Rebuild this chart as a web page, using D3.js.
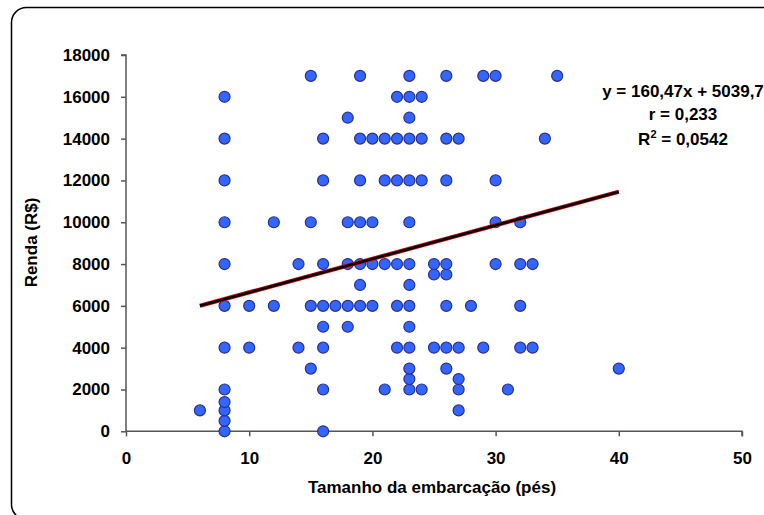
<!DOCTYPE html>
<html>
<head>
<meta charset="utf-8">
<script src="https://cdn.jsdelivr.net/npm/d3@7"></script>
<style>
  body { margin: 0; background: #fff; }
  svg { display: block; }
  .axis path, .axis line { stroke: #555; stroke-width: 1.5; }
  .axis text { font: bold 17px "Liberation Sans", Arial, sans-serif; fill: #000; }
</style>
</head>
<body>
<div id="chart"></div>
<script>
// boat size (feet) and income (R$), one entry per visible marker
var boatSize = [
  6,
  8, 8, 8, 8, 8, 8, 8, 8, 8, 8, 8, 8,
  10, 10,
  12, 12,
  14, 14,
  15, 15, 15, 15,
  16, 16, 16, 16, 16, 16, 16, 16,
  17,
  18, 18, 18, 18, 18,
  19, 19, 19, 19, 19, 19, 19,
  20, 20, 20, 20,
  21, 21, 21, 21,
  22, 22, 22, 22, 22, 22,
  23, 23, 23, 23, 23, 23, 23, 23, 23, 23, 23, 23, 23, 23,
  24, 24, 24, 24,
  25, 25, 25,
  26, 26, 26, 26, 26, 26, 26, 26,
  27, 27, 27, 27, 27,
  28,
  29, 29,
  30, 30, 30, 30,
  31,
  32, 32, 32, 32,
  33, 33,
  34,
  35,
  40
];
var income = [
  1000,
  0, 500, 1000, 1400, 2000, 4000, 6000, 8000, 10000, 12000, 14000, 16000,
  4000, 6000,
  6000, 10000,
  4000, 8000,
  3000, 6000, 10000, 17000,
  0, 2000, 4000, 5000, 6000, 8000, 12000, 14000,
  6000,
  5000, 6000, 8000, 10000, 15000,
  6000, 7000, 8000, 10000, 12000, 14000, 17000,
  6000, 8000, 10000, 14000,
  2000, 8000, 12000, 14000,
  4000, 6000, 8000, 12000, 14000, 16000,
  2000, 2500, 3000, 4000, 5000, 6000, 7000, 8000, 10000, 12000, 14000, 15000, 16000, 17000,
  2000, 12000, 14000, 16000,
  4000, 7500, 8000,
  3000, 4000, 6000, 7500, 8000, 12000, 14000, 17000,
  1000, 2000, 2500, 4000, 14000,
  6000,
  4000, 17000,
  8000, 10000, 12000, 17000,
  2000,
  4000, 6000, 8000, 10000,
  4000, 8000,
  14000,
  17000,
  3000
];

var xTicks = [0, 10, 20, 30, 40, 50];
var yTicks = [0, 2000, 4000, 6000, 8000, 10000, 12000, 14000, 16000, 18000];

// trend line as printed on the chart
var slope = 160.47;
var intercept = 5039.7;
var trendRange = [6, 40];
var statLines = ["y = 160,47x + 5039,7", "r = 0,233"];
var r2Label = "0,0542";

var xTitle = "Tamanho da embarcação (pés)";
var yTitle = "Renda (R$)";

var width = 764, height = 515;
var font = '"Liberation Sans", Arial, sans-serif';

var svg = d3.select("#chart").append("svg")
    .attr("width", width)
    .attr("height", height);

// outer frame with rounded corner
svg.append("rect")
    .attr("x", 11.5)
    .attr("y", 7.5)
    .attr("width", 800)
    .attr("height", 512)
    .attr("rx", 15)
    .attr("fill", "none")
    .attr("stroke", "#000")
    .attr("stroke-width", 1.5);

var x = d3.scaleLinear().domain([0, 50]).range([126, 742]);
var y = d3.scaleLinear().domain([0, 18000]).range([431.3, 55]);

var xAxis = d3.axisBottom(x)
    .tickValues(xTicks)
    .tickSize(5)
    .tickPadding(16)
    .tickFormat(d3.format("d"));

var yAxis = d3.axisLeft(y)
    .tickValues(yTicks)
    .tickSize(5)
    .tickPadding(11)
    .tickFormat(d3.format("d"));

svg.append("g")
    .attr("class", "axis")
    .attr("transform", "translate(0," + y(0) + ")")
    .call(xAxis)
    .call(function (g) { g.select(".domain").attr("d", "M" + x(0) + ",0H" + x(50) + "V5"); });

svg.append("g")
    .attr("class", "axis")
    .attr("transform", "translate(" + x(0) + ",0)")
    .call(yAxis)
    .call(function (g) { g.select(".domain").attr("d", "M-5," + y(18000) + "H0V" + y(0)); });

// axis titles
svg.append("text")
    .attr("x", (x(0) + x(50)) / 2 - 2)
    .attr("y", 493)
    .attr("text-anchor", "middle")
    .style("font", "bold 17px " + font)
    .text(xTitle);

svg.append("text")
    .attr("transform", "translate(37," + 242.5 + ") rotate(-90)")
    .attr("text-anchor", "middle")
    .style("font", "bold 17px " + font)
    .text(yTitle);

// points
var points = boatSize.map(function (d, i) { return [d, income[i]]; });

svg.append("g").selectAll("circle")
    .data(points)
    .enter()
    .append("circle")
    .attr("cx", function (d) { return x(d[0]); })
    .attr("cy", function (d) { return y(d[1]); })
    .attr("r", 5.5)
    .attr("fill", "#3366ff")
    .attr("stroke", "#2b2f8f")
    .attr("stroke-width", 1.2);

// trend line: red edge under black stroke
var trend = trendRange.map(function (v) { return [x(v), y(slope * v + intercept)]; });
var line = d3.line();

svg.append("path")
    .attr("d", line(trend))
    .attr("stroke", "#e00000")
    .attr("stroke-width", 4.2)
    .attr("fill", "none");

svg.append("path")
    .attr("d", line(trend))
    .attr("stroke", "#000")
    .attr("stroke-width", 2.6)
    .attr("fill", "none");

// equation block
var stats = svg.append("g")
    .style("font", "bold 17px " + font)
    .attr("text-anchor", "middle");

stats.append("text").attr("x", 683).attr("y", 97).text(statLines[0]);
stats.append("text").attr("x", 683).attr("y", 119.5).text(statLines[1]);

var r2 = stats.append("text").attr("x", 683).attr("y", 145);
r2.append("tspan").text("R");
r2.append("tspan").attr("dy", -7).style("font-size", "11px").text("2");
r2.append("tspan").attr("dy", 7).text(" = " + r2Label);
</script>
</body>
</html>
